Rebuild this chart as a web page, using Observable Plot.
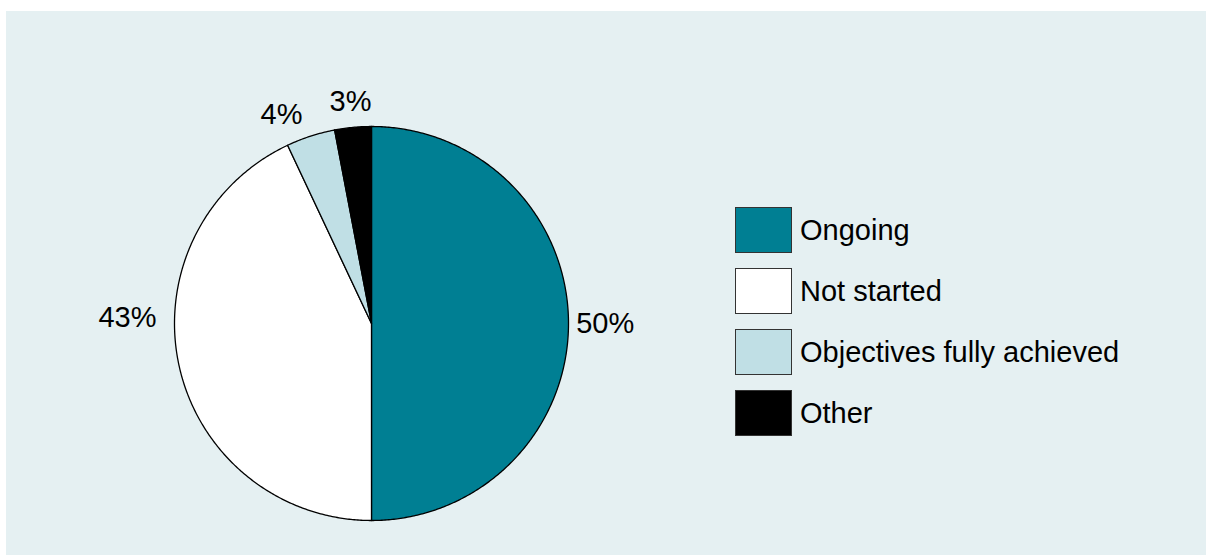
<!DOCTYPE html>
<html>
<head>
<meta charset="utf-8">
<script src="https://cdn.jsdelivr.net/npm/d3@7"></script>
<script src="https://cdn.jsdelivr.net/npm/@observablehq/plot@0.6"></script>
<style>
  html, body { margin: 0; padding: 0; background: #ffffff; }
  #wrap { position: relative; width: 1206px; height: 555px; overflow: hidden; }
  #bg { position: absolute; left: 6px; top: 11px; right: 0; bottom: 0; background: #e5f0f2; }
  #pie { position: absolute; left: 0; top: 0; }
  #legend { position: absolute; left: 735px; top: 198px; }
  svg { font-family: "Liberation Sans", Arial, sans-serif; }
</style>
</head>
<body>
<div id="wrap">
  <div id="bg"></div>
  <div id="pie"></div>
  <div id="legend"></div>
</div>
<script>
// ---- data ----
const categories = ["Ongoing", "Not started", "Objectives fully achieved", "Other"];
const shares = [50, 43, 4, 3];
const labels = ["50%", "43%", "4%", "3%"];
const colors = ["#007f93", "#ffffff", "#c0dfe5", "#000000"];

// ---- layout ----
const W = 1206, H = 555;
const cx = 371, cy = 323, R = 197;  // pie centre and radius in px
const fontSize = 29;
const labelGap = 8;                 // px between rim and label box
const labelAngleShift = {"Not started": 14, "Objectives fully achieved": -5.3}; // degrees
const labelExtraGap = {"Not started": 10};  // px

const total = d3.sum(shares);
const pts = [];
const lbl = [];
let acc = 0;
categories.forEach((c, i) => {
  const a0 = acc / total * 2 * Math.PI;
  acc += shares[i];
  const a1 = acc / total * 2 * Math.PI;
  pts.push({cat: c, x: 0, y: 0});
  const n = Math.max(2, Math.ceil((a1 - a0) / (Math.PI / 360)));
  for (let k = 0; k <= n; k++) {
    const a = a0 + (a1 - a0) * k / n;
    pts.push({cat: c, x: Math.sin(a), y: Math.cos(a)});
  }
  pts.push({cat: c, x: 0, y: 0});
  const am = (a0 + a1) / 2 + (labelAngleShift[c] || 0) * Math.PI / 180;
  const hw = labels[i].length * 0.33 * fontSize;   // approx half text width
  const hh = 0.56 * fontSize;                       // approx half text height
  const off = (R + labelGap + (labelExtraGap[c] || 0) + Math.abs(Math.sin(am)) * hw + Math.abs(Math.cos(am)) * hh) / R;
  lbl.push({cat: c, text: labels[i], x: Math.sin(am) * off, y: Math.cos(am) * off});
});

const pie = Plot.plot({
  width: W, height: H,
  marginTop: 0, marginRight: 0, marginBottom: 0, marginLeft: 0,
  style: {background: "transparent", fontFamily: "'Liberation Sans', Arial, sans-serif"},
  x: {domain: [-cx / R, (W - cx) / R], range: [0, W], axis: null},
  y: {domain: [-(H - cy) / R, cy / R], range: [H, 0], axis: null},
  color: {domain: categories, range: colors},
  marks: [
    Plot.line(pts, {x: "x", y: "y", z: "cat", fill: "cat", stroke: "#000", strokeWidth: 1.3, strokeLinejoin: "round", curve: "linear"}),
    Plot.text(lbl, {x: "x", y: "y", text: "text", fontSize: fontSize, fill: "#000"})
  ]
});
document.getElementById("pie").appendChild(pie);

const legend = Plot.plot({
  width: 440, height: 246,
  marginTop: 0, marginRight: 0, marginBottom: 0, marginLeft: 0,
  style: {background: "transparent", fontFamily: "'Liberation Sans', Arial, sans-serif", overflow: "visible"},
  x: {type: "band", domain: [""], range: [0, 57], padding: 0, axis: null},
  y: {type: "band", domain: categories, range: [0, 246], paddingInner: 0.25, paddingOuter: 0.125, axis: null},
  color: {domain: categories, range: colors},
  marks: [
    Plot.cell(categories, {x: () => "", y: d => d, fill: d => d, stroke: "#333", strokeWidth: 1, inset: 0.5}),
    Plot.text(categories, {x: () => "", y: d => d, text: d => d, textAnchor: "start", dx: 36, fontSize: fontSize, fill: "#000"})
  ]
});
document.getElementById("legend").appendChild(legend);
</script>
</body>
</html>
